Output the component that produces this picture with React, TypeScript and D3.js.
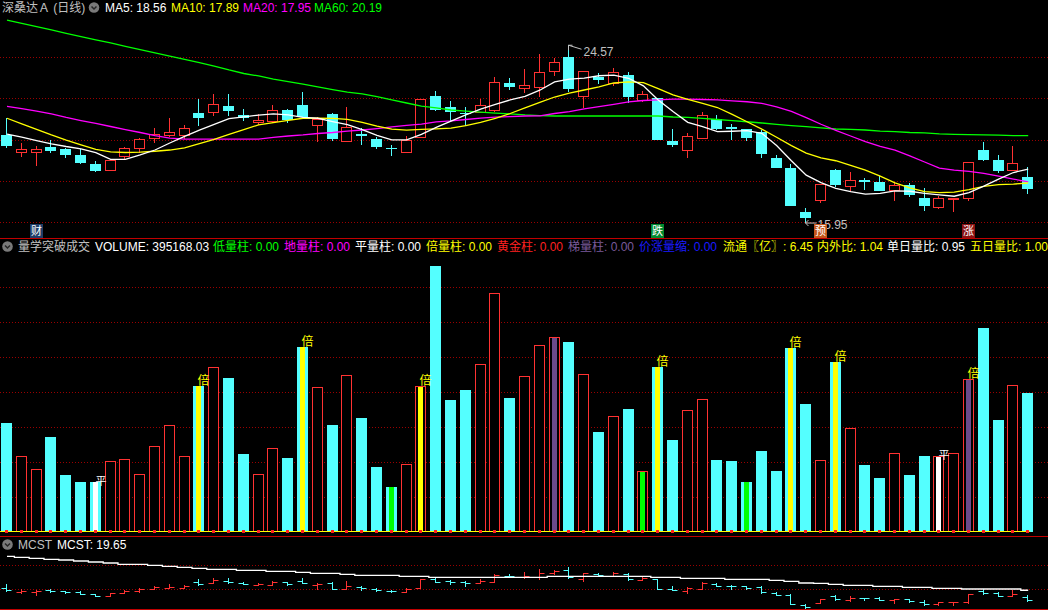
import React from "react";
import * as d3 from "d3";

// daily K-line values
const openPrice = [
  20.22, 19.36, 19.36, 19.62, 19.52, 19.25, 18.81, 18.49, 19.17, 19.52,
  20.02, 20.17, 20.17, 21.3, 21.27, 21.62, 21.19, 20.81, 20.86, 21.43,
  21.67, 20.67, 21.24, 19.89, 20.25, 20.02, 19.6, 19.33, 20.09, 22.11,
  21.59, 21.3, 21.27, 21.38, 22.72, 22.45, 22.51, 23.29, 24.0, 22.08,
  23.02, 22.68, 23.13, 21.87, 22.0, 19.93, 19.46, 20.02, 20.99, 20.59,
  20.49, 20.38, 19.09, 18.63, 16.48, 17.03, 18.52, 17.68, 18.04, 17.95,
  17.52, 17.79, 17.18, 16.69, 17.1, 17.1, 19.49, 19.01, 18.47, 18.17,
];
const highPrice = [
  21.03, 19.82, 19.68, 19.98, 19.59, 19.54, 18.97, 19.07, 19.62, 20.07,
  20.56, 21.03, 20.7, 21.96, 22.21, 22.21, 21.48, 21.24, 21.67, 21.48,
  22.3, 21.08, 21.3, 21.59, 20.57, 20.14, 19.73, 20.17, 21.95, 22.35,
  21.87, 21.56, 21.95, 23.02, 22.97, 23.4, 24.15, 23.94, 24.57, 23.31,
  23.21, 23.45, 23.26, 22.35, 22.0, 20.51, 20.3, 21.35, 21.19, 20.74,
  20.49, 20.46, 19.25, 18.81, 16.69, 17.84, 18.57, 18.44, 18.12, 18.23,
  17.91, 17.88, 17.66, 17.26, 17.18, 18.89, 19.89, 19.25, 19.68, 18.65,
];
const lowPrice = [
  19.57, 19.17, 18.71, 19.33, 19.12, 18.81, 18.42, 18.49, 19.04, 19.33,
  19.84, 20.11, 20.04, 20.67, 21.15, 21.15, 20.9, 20.7, 20.79, 20.81,
  21.08, 19.89, 19.94, 19.89, 19.73, 19.54, 19.2, 19.33, 20.09, 21.38,
  20.9, 20.65, 21.27, 21.32, 22.4, 22.24, 22.08, 23.09, 22.32, 21.51,
  22.69, 22.61, 21.76, 21.83, 19.98, 19.62, 19.12, 20.02, 20.46, 19.98,
  19.94, 19.12, 18.6, 16.77, 15.95, 16.94, 17.71, 17.47, 17.55, 17.52,
  17.03, 17.23, 16.55, 16.62, 16.5, 17.03, 18.97, 18.39, 18.47, 17.36,
];
const closePrice = [
  19.7, 19.52, 19.52, 19.46, 19.26, 18.88, 18.49, 19.01, 19.59, 20.01,
  20.27, 20.36, 20.54, 21.06, 21.72, 21.38, 21.03, 20.95, 21.43, 20.95,
  21.11, 20.99, 20.02, 20.59, 20.18, 19.65, 19.52, 19.98, 21.95, 21.43,
  21.35, 21.24, 21.67, 22.77, 22.56, 22.64, 23.26, 23.74, 22.45, 23.31,
  22.88, 23.26, 22.08, 22.19, 19.98, 19.73, 20.17, 21.19, 20.51, 20.51,
  20.09, 19.3, 18.6, 16.77, 16.21, 17.84, 17.79, 18.04, 17.95, 17.52,
  17.79, 17.31, 16.79, 17.18, 17.18, 18.89, 19.01, 18.47, 18.85, 17.6,
];
const volume = [
  310600, 216300, 178300, 270600, 162000, 142000, 142000, 202000, 207700, 164000,
  244800, 304800, 216300, 416300, 469700, 439100, 222000, 164800, 238300, 210600,
  527700, 413400, 304800, 446800, 324800, 184800, 127700, 193400, 416300, 759100,
  376300, 404800, 478300, 681100, 382000, 444000, 532500, 555400, 542000, 449700,
  284800, 329700, 350600, 172600, 470600, 262000, 346800, 378300, 204800, 202000,
  142000, 230600, 173400, 524800, 364800, 204000, 484800, 295400, 190600, 153400,
  224800, 162000, 216300, 216300, 224800, 436300, 582000, 319100, 419100, 395168.03,
];

// moving averages
const ma5 = [
  20.26, 20.11, 19.95, 19.79, 19.66, 19.55, 19.36, 19.04, 19.04, 19.25,
  19.49, 19.83, 20.15, 20.45, 20.73, 21.01, 21.1, 21.18, 21.24, 21.19,
  21.07, 21.03, 20.87, 20.72, 20.48, 20.2, 19.98, 19.98, 20.25, 20.59,
  20.89, 21.19, 21.47, 21.7, 21.92, 22.09, 22.39, 22.79, 22.93, 22.98,
  23.09, 23.12, 22.97, 22.6, 21.92, 21.36, 20.83, 20.62, 20.38, 20.4,
  20.43, 20.3, 19.71, 18.97, 18.27, 17.91, 17.63, 17.47, 17.35, 17.39,
  17.51, 17.49, 17.39, 17.32, 17.25, 17.42, 17.74, 18.08, 18.4, 18.56,
];
const ma10 = [
  21.03, 20.76, 20.49, 20.22, 19.97, 19.74, 19.52, 19.4, 19.37, 19.39,
  19.43, 19.49, 19.59, 19.8, 20.01, 20.25, 20.48, 20.71, 20.82, 20.93,
  21.03, 21.03, 21.02, 20.98, 20.83, 20.65, 20.5, 20.45, 20.49, 20.52,
  20.55, 20.67, 20.83, 21.02, 21.26, 21.53, 21.8, 22.06, 22.25, 22.4,
  22.55, 22.74, 22.79, 22.76, 22.47, 22.16, 21.94, 21.75, 21.55, 21.22,
  20.86, 20.5, 20.11, 19.7, 19.34, 19.11, 18.97, 18.75, 18.51, 18.22,
  17.9, 17.66, 17.47, 17.42, 17.45, 17.57, 17.73, 17.81, 17.84, 17.89,
];
const ma20 = [
  21.61, 21.5, 21.38, 21.24, 21.07, 20.92, 20.78, 20.63, 20.48, 20.34,
  20.19, 20.07, 20.02, 20.02, 20.02, 20.02, 20.02, 20.02, 20.1, 20.17,
  20.22, 20.29, 20.34, 20.41, 20.46, 20.53, 20.61, 20.68, 20.75, 20.85,
  20.9, 20.97, 21.04, 21.08, 21.11, 21.14, 21.15, 21.26, 21.35, 21.48,
  21.59, 21.7, 21.82, 21.89, 21.92, 21.96, 21.96, 21.94, 21.92, 21.87,
  21.83, 21.75, 21.58, 21.36, 21.06, 20.74, 20.44, 20.17, 19.9, 19.67,
  19.48, 19.21, 18.91, 18.61, 18.52, 18.45, 18.36, 18.22, 18.08, 17.95,
];
const ma60 = [
  25.79, 25.63, 25.47, 25.31, 25.15, 24.99, 24.83, 24.68, 24.52, 24.36,
  24.2, 24.04, 23.88, 23.73, 23.56, 23.37, 23.2, 23.08, 22.93, 22.81,
  22.69, 22.55, 22.42, 22.3, 22.21, 22.08, 21.92, 21.77, 21.62, 21.53,
  21.43, 21.38, 21.33, 21.28, 21.24, 21.19, 21.16, 21.14, 21.14, 21.14,
  21.14, 21.14, 21.14, 21.14, 21.14, 21.09, 21.07, 21.02, 20.97, 20.92,
  20.86, 20.8, 20.73, 20.67, 20.62, 20.56, 20.51, 20.49, 20.46, 20.41,
  20.38, 20.34, 20.32, 20.27, 20.25, 20.24, 20.22, 20.21, 20.19, 20.19,
];
const mcst = [
  26.78, 26.57, 26.36, 26.15, 26.01, 25.8, 25.59, 25.38, 25.1, 25.1,
  24.89, 24.68, 24.47, 24.26, 24.05, 24.05, 23.84, 23.84, 23.63, 23.63,
  23.42, 23.21, 23.21, 23.0, 22.79, 22.79, 22.79, 22.58, 22.58, 22.37,
  22.37, 22.37, 22.37, 22.37, 22.37, 22.37, 22.37, 22.58, 22.58, 22.58,
  22.58, 22.58, 22.58, 22.58, 22.37, 22.37, 22.16, 22.16, 22.16, 21.95,
  21.95, 21.95, 21.74, 21.53, 21.18, 21.11, 20.9, 20.69, 20.69, 20.48,
  20.48, 20.27, 20.27, 20.06, 20.06, 19.92, 19.92, 19.92, 19.92, 19.65,
];

// special volume bars (candle index)
const doubleBars = [13, 20, 28, 44, 53, 56, 65];
const ladderBars = [37, 65];
const lowBars = [26, 43, 50];
const flatBars = [6, 63];

// signal marks under the K-line
const signalIdx = [2, 44, 55, 65];
const signalText = ["财", "跌", "预", "涨"];
const signalColor = ["#1f3d68", "#008a30", "#c4561a", "#8a1212"];

const priceTicks = [24, 22, 20, 18, 16];
const volumeTicks = [100000, 200000, 300000, 400000, 500000, 600000, 700000];
const mcstTicks = [25, 20];

const volLegend = [
  "量学突破成交", "VOLUME", "低量柱: 0.00", "地量柱: 0.00", "平量柱: 0.00", "倍量柱: 0.00",
  "黄金柱: 0.00", "梯量柱: 0.00", "价涨量缩: 0.00", "流通〖亿〗: 6.45", "内外比: 1.04",
  "单日量比: 0.95", "五日量比: 1.00",
];
const volLegendColor = [
  "#c0c0c0", "#ffffff", "#00ff00", "#ff00ff", "#ffffff", "#ffff00",
  "#ff2020", "#7a5a9a", "#1a1aff", "#ffff00", "#ffff00", "#ffffff", "#ffff00",
];
const volLegendX = [18, 95, 213, 284, 355, 426, 497, 568, 639, 723, 817, 887, 970];

const FONT = "'Liberation Sans', Arial, 'Noto Sans CJK SC', sans-serif";
const RED = "#ff3232";
const CYAN = "#54ffff";
const GRID = "#9a0000";
const BORDER = "#c00000";
const GREY = "#c0c0c0";

const Chevron = ({ cx, cy }: any) => (
  <g>
    <circle cx={cx} cy={cy} r={5.3} fill="#7a7a7a" />
    <path
      d={`M${cx - 2.5},${cy - 1} L${cx},${cy + 1.6} L${cx + 2.5},${cy - 1}`}
      stroke="#262626"
      strokeWidth={1.4}
      fill="none"
    />
  </g>
);

function App() {
  const n = closePrice.length;
  const idx = d3.range(n);

  const x = d3.scaleLinear().domain([0, n - 1]).range([7, 1028.2]);
  const yK = d3.scaleLinear().domain([16, 24]).range([222, 57]);
  const yV = d3.scaleLinear().domain([0, 700000]).range([531.7, 286.7]);
  const yM = d3.scaleLinear().domain([20, 25]).range([588.6, 564.8]);

  const left = (i: number) => Math.floor(x(i) - 5.5);
  const kLine = d3
    .line<number>()
    .x((_, i) => x(i))
    .y((d) => yK(d));
  const mcstLine = d3
    .line<number>()
    .x((_, i) => x(i))
    .y((d) => yM(d))
    .curve(d3.curveStep);

  const maxI = d3.maxIndex(highPrice);
  const minI = d3.minIndex(lowPrice);
  const hx = left(maxI) + 5.5;
  const hy = yK(highPrice[maxI]);
  const lx = left(minI) + 5.5;
  const ly = yK(lowPrice[minI]);

  const base = 532;
  const last = n - 1;

  const mainLegend = [
    { t: `MA5: ${ma5[last].toFixed(2)}`, c: "#ffffff", x: 105 },
    { t: `MA10: ${ma10[last].toFixed(2)}`, c: "#ffff00", x: 171 },
    { t: `MA20: ${ma20[last].toFixed(2)}`, c: "#ff00ff", x: 243 },
    { t: `MA60: ${ma60[last].toFixed(2)}`, c: "#00ff00", x: 314 },
  ];

  return (
    <svg
      width={1048}
      height={610}
      style={{ position: "absolute", left: 0, top: 0, background: "#000", display: "block" }}
      fontFamily={FONT}
    >
      <defs>
        <clipPath id="mcstClip">
          <rect x={0} y={537} width={1048} height={72} />
        </clipPath>
      </defs>
      <rect x={0} y={0} width={1048} height={610} fill="#000" />

      {/* ---------- K-line panel ---------- */}
      {priceTicks.map((t) => (
        <line key={"pg" + t} x1={0} x2={1048} y1={Math.round(yK(t)) + 0.5} y2={Math.round(yK(t)) + 0.5}
          stroke={GRID} strokeDasharray="1,2" />
      ))}

      {idx.map((i) => {
        const o = openPrice[i];
        const c = closePrice[i];
        const up = c >= o;
        const l = left(i);
        const cx = l + 5.5;
        const yT = Math.round(yK(Math.max(o, c)));
        const yB = Math.round(yK(Math.min(o, c)));
        const yH = Math.round(yK(highPrice[i]));
        const yL = Math.round(yK(lowPrice[i]));
        if (up) {
          return (
            <g key={"k" + i}>
              <line x1={cx} x2={cx} y1={yH} y2={yT} stroke={RED} />
              <line x1={cx} x2={cx} y1={yB} y2={yL} stroke={RED} />
              <rect x={l + 0.5} y={yT + 0.5} width={10} height={Math.max(yB - yT - 1, 1)}
                fill="#000" stroke={RED} />
            </g>
          );
        }
        return (
          <g key={"k" + i}>
            <line x1={cx} x2={cx} y1={yH} y2={yL} stroke={CYAN} />
            <rect x={l} y={yT} width={11} height={Math.max(yB - yT, 1)} fill={CYAN} />
          </g>
        );
      })}

      <path d={kLine(ma60) || ""} fill="none" stroke="#00ff00" strokeWidth={1.3} />
      <path d={kLine(ma20) || ""} fill="none" stroke="#ff00ff" strokeWidth={1.3} />
      <path d={kLine(ma10) || ""} fill="none" stroke="#ffff00" strokeWidth={1.3} />
      <path d={kLine(ma5) || ""} fill="none" stroke="#ffffff" strokeWidth={1.3} />

      {/* high / low notes */}
      <path d={`M${hx},${hy + 5} V${hy} H${hx + 4} M${hx},${hy} L${hx + 13},${hy + 4}`}
        stroke={GREY} fill="none" />
      <text x={hx + 15} y={hy + 11} fontSize={12} fill={GREY}>{highPrice[maxI].toFixed(2)}</text>
      <path d={`M${lx + 3},${ly - 3} L${lx},${ly} L${lx + 3},${ly + 3} M${lx},${ly} H${lx + 11}`}
        stroke={GREY} fill="none" />
      <text x={lx + 12} y={ly + 6} fontSize={12} fill={GREY}>{lowPrice[minI].toFixed(2)}</text>

      {signalIdx.map((s, k) => {
        const cx = left(s) + 5.5;
        return (
          <g key={"sg" + k}>
            <rect x={cx - 6.5} y={224} width={13} height={15} fill={signalColor[k]} />
            <text x={cx} y={235} fontSize={11} fill="#ffffff" textAnchor="middle">{signalText[k]}</text>
          </g>
        );
      })}

      {/* header */}
      <text x={2} y={12} fontSize={12} fill={GREY}>深桑达Ａ (日线)</text>
      <Chevron cx={94} cy={7.5} />
      {mainLegend.map((m) => (
        <text key={m.t} x={m.x} y={12} fontSize={12} fill={m.c}>{m.t}</text>
      ))}

      {/* ---------- volume panel ---------- */}
      <rect x={0} y={239} width={1048} height={297} fill="#000" />
      {volumeTicks.map((t) => (
        <line key={"vg" + t} x1={0} x2={1048} y1={Math.round(yV(t)) + 0.5} y2={Math.round(yV(t)) + 0.5}
          stroke={GRID} strokeDasharray="1,2" />
      ))}

      {idx.map((i) => {
        const up = closePrice[i] >= openPrice[i];
        const l = left(i);
        const top = Math.round(yV(volume[i]));
        let inner: string | null = null;
        if (ladderBars.includes(i)) inner = "#6a4a8a";
        else if (doubleBars.includes(i)) inner = "#ffff00";
        else if (lowBars.includes(i)) inner = "#00ff00";
        else if (flatBars.includes(i)) inner = "#ffffff";
        return (
          <g key={"v" + i}>
            {up ? (
              <rect x={l + 0.5} y={top + 0.5} width={10} height={base - top - 1} fill="#000" stroke={RED} />
            ) : (
              <rect x={l} y={top} width={11} height={base - top} fill={CYAN} />
            )}
            {inner && (
              <rect x={l + 3} y={up ? top + 1 : top} width={5} height={base - top - (up ? 1 : 0)} fill={inner} />
            )}
          </g>
        );
      })}

      {doubleBars.map((i) => (
        <text key={"db" + i} x={left(i) + 4.5} y={Math.round(yV(volume[i])) - 1} fontSize={12} fill="#ffff00">倍</text>
      ))}
      {flatBars.map((i) => (
        <text key={"fb" + i} x={left(i) + 5.5} y={Math.round(yV(volume[i])) + 3} fontSize={11} fill="#ffffff">平</text>
      ))}

      <line x1={0} x2={x(last) + 2} y1={531.5} y2={531.5} stroke="#ffff00" />
      {idx.map((i) => (
        <rect key={"dot" + i} x={left(i) + 4} y={530} width={3} height={3} fill="#ff2020" />
      ))}

      <Chevron cx={7.5} cy={246.5} />
      {volLegend.map((t, k) => (
        <text key={"vl" + k} x={volLegendX[k]} y={251} fontSize={12} fill={volLegendColor[k]}>
          {t === "VOLUME" ? `VOLUME: ${volume[last].toFixed(2)}` : t}
        </text>
      ))}

      {/* ---------- MCST panel ---------- */}
      {mcstTicks.map((t) => (
        <line key={"mg" + t} x1={0} x2={1048} y1={Math.round(yM(t)) + 0.5} y2={Math.round(yM(t)) + 0.5}
          stroke={GRID} strokeDasharray="1,2" />
      ))}
      <g clipPath="url(#mcstClip)">
        {idx.map((i) => {
          const up = closePrice[i] >= openPrice[i];
          const col = up ? RED : CYAN;
          const cx = left(i) + 5.5;
          const yo = Math.round(yM(openPrice[i])) + 0.5;
          const yc = Math.round(yM(closePrice[i])) + 0.5;
          return (
            <g key={"m" + i} stroke={col}>
              <line x1={cx} x2={cx} y1={Math.round(yM(highPrice[i]))} y2={Math.round(yM(lowPrice[i])) + 1} />
              <line x1={cx - 5} x2={cx} y1={yo} y2={yo} />
              <line x1={cx} x2={cx + 5} y1={yc} y2={yc} />
            </g>
          );
        })}
        <path d={mcstLine(mcst) || ""} fill="none" stroke="#ffffff" strokeWidth={1.3} />
      </g>
      <Chevron cx={7.5} cy={544.5} />
      <text x={18} y={549} fontSize={12} fill={GREY}>MCST</text>
      <text x={57} y={549} fontSize={12} fill="#ffffff">{`MCST: ${mcst[last].toFixed(2)}`}</text>

      {/* panel borders */}
      <line x1={0} x2={1048} y1={238.5} y2={238.5} stroke={BORDER} />
      <line x1={0} x2={1048} y1={536.5} y2={536.5} stroke={BORDER} />
      <line x1={0} x2={1048} y1={609.5} y2={609.5} stroke={BORDER} />
    </svg>
  );
}

export default App;
